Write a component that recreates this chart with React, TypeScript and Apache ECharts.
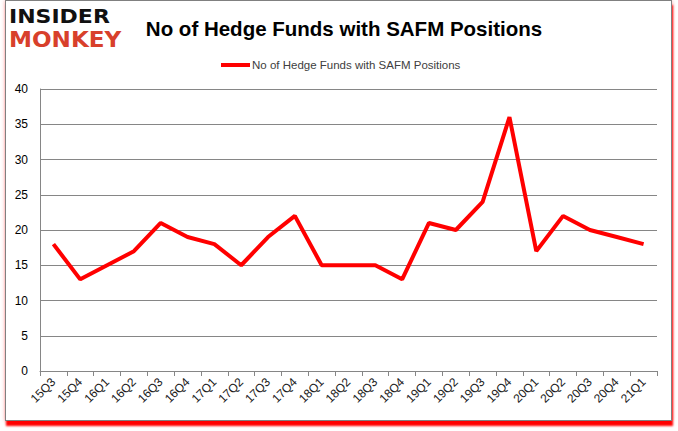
import React, { useEffect, useRef } from 'react';
import * as echarts from 'echarts';

const quarters = [
    '15Q3', '15Q4', '16Q1', '16Q2', '16Q3', '16Q4', '17Q1', '17Q2', '17Q3', '17Q4',
    '18Q1', '18Q2', '18Q3', '18Q4', '19Q1', '19Q2', '19Q3', '19Q4', '20Q1', '20Q2',
    '20Q3', '20Q4', '21Q1',
];
const hedgeFunds = [18, 13, 15, 17, 21, 19, 18, 15, 19, 22, 15, 15, 15, 13, 21, 20, 24, 36, 17, 22, 20, 19, 18];
const seriesName = 'No of Hedge Funds with SAFM Positions';
const chartTitle = 'No of Hedge Funds with SAFM Positions';

const font = '"Liberation Sans", Arial, sans-serif';

const App: React.FC = () => {
    const chartRef = useRef<HTMLDivElement>(null);

    useEffect(() => {
        if (!chartRef.current) return;
        const chart = echarts.init(chartRef.current, undefined, { renderer: 'svg' });

        chart.setOption({
            animation: false,
            textStyle: { fontFamily: font },
            title: {
                text: chartTitle,
                left: 339,
                textAlign: 'center',
                top: 13,
                textStyle: { fontSize: 20.5, fontWeight: 'bold', color: '#000', fontFamily: font },
            },
            legend: {
                data: [seriesName],
                top: 54,
                left: 216,
                itemWidth: 29,
                itemHeight: 4,
                itemGap: 2,
                icon: 'rect',
                textStyle: { fontSize: 11.5, color: '#404040', padding: [0, 0, 0, -3] },
            },
            grid: { left: 40, right: 21, top: 89, bottom: 60 },
            xAxis: {
                type: 'category',
                data: quarters,
                boundaryGap: true,
                axisLine: { lineStyle: { color: '#868686', width: 1 } },
                axisTick: { show: true, length: 5, interval: 0, lineStyle: { color: '#868686' } },
                axisLabel: { interval: 0, rotate: 45, margin: 9, fontSize: 12, color: '#1a1a1a' },
            },
            yAxis: {
                type: 'value',
                min: 0,
                max: 40,
                interval: 5,
                axisLine: { show: true, lineStyle: { color: '#868686' } },
                axisTick: { show: false },
                axisLabel: { fontSize: 12, color: '#000', margin: 12 },
                splitLine: { lineStyle: { color: '#868686', width: 1 } },
            },
            series: [
                {
                    name: seriesName,
                    type: 'line',
                    data: hedgeFunds,
                    showSymbol: false,
                    symbol: 'none',
                    lineStyle: { color: '#ff0000', width: 4 },
                    itemStyle: { color: '#ff0000' },
                },
            ],
            graphic: [
                {
                    type: 'text',
                    left: 9,
                    top: 6,
                    style: {
                        text: 'INSIDER',
                        fontSize: 20,
                        fontWeight: 900,
                        fontFamily: '"DejaVu Sans", sans-serif',
                        fill: '#111',
                    },
                    scaleX: 1.1,
                },
                {
                    type: 'text',
                    left: 9,
                    top: 29,
                    style: {
                        text: 'MONKEY',
                        fontSize: 21,
                        fontWeight: 900,
                        fontFamily: '"DejaVu Sans", sans-serif',
                        fill: '#d8402b',
                    },
                    scaleX: 1.1,
                },
            ],
        });

        return () => {
            chart.dispose();
        };
    }, []);

    return (
        <div style={{ position: 'fixed', left: 0, top: 0, width: 678, height: 431, background: '#fff' }}>
            <div
                style={{
                    position: 'absolute',
                    left: 5,
                    top: 0,
                    width: 665,
                    height: 419,
                    border: '1px solid #808080',
                    background: '#fff',
                    boxShadow: '1px 5px 2px #ff0000, 0 0 4px rgba(255,0,0,0.35)',
                }}
            />
            <div ref={chartRef} style={{ position: 'absolute', left: 0, top: 0, width: 678, height: 431 }} />
        </div>
    );
};

export default App;
